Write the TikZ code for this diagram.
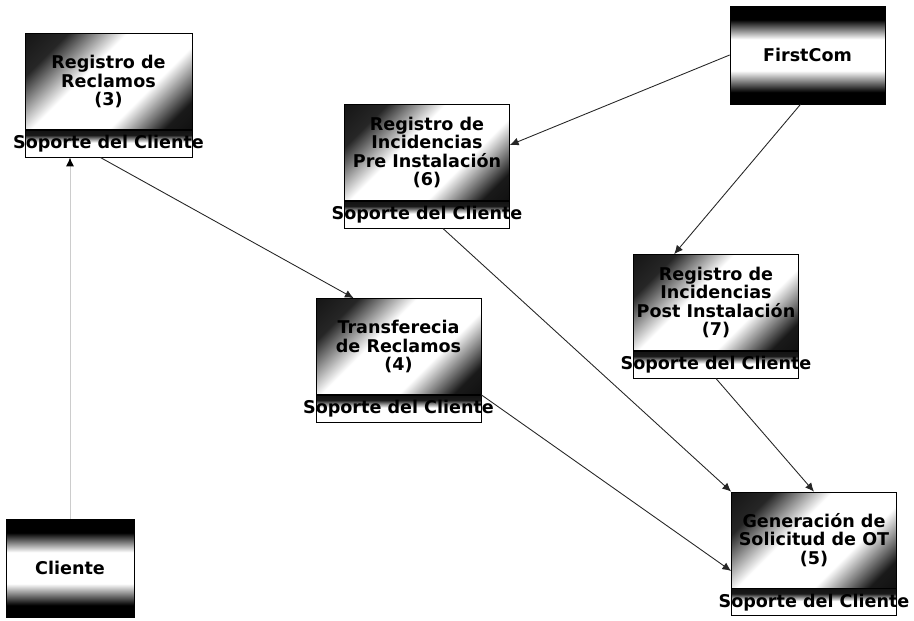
\documentclass[tikz,border=0pt]{standalone}
\usepackage{fontspec}
\setmainfont{DejaVu Sans}
\usepackage{tikz}
\usetikzlibrary{arrows.meta}

\pgfdeclareverticalshading{procshade}{100bp}{color(0bp)=(black); color(22bp)=(black!90); color(37bp)=(white); color(58bp)=(white); color(74bp)=(black!85); color(100bp)=(black)}
\pgfdeclareverticalshading{actorshade}{100bp}{color(0bp)=(black); color(31bp)=(black); color(42bp)=(white); color(58bp)=(white); color(68bp)=(black); color(100bp)=(black)}
\pgfdeclareverticalshading{bandshade}{100bp}{color(0bp)=(white); color(52bp)=(white); color(66bp)=(black!90); color(100bp)=(black)}

\begin{document}
\begin{tikzpicture}[x=0.02cm, y=-0.02cm,
    font=\fontsize{10}{10.5}\selectfont\bfseries,
    proc/.style={draw, shading=procshade, shading angle=45, inner sep=0pt,
      minimum width=3.3cm, minimum height=1.92cm, align=center},
    suplabel/.style={draw, shading=bandshade, inner sep=0pt, anchor=north,
      minimum width=3.3cm, minimum height=0.54cm},
    actor/.style={draw, shading=actorshade, inner sep=0pt,
      minimum height=1.96cm},
    link/.style={draw=black!85, line width=0.5pt, -{Latex[length=5pt,width=4.5pt]}}
  ]
  \useasboundingbox (0,0) rectangle (914,621);

  % actores
  \node[actor, minimum width=3.1cm] (first) at (807.5,55) {FirstCom};
  \node[actor, minimum width=2.56cm] (cli) at (70,568) {Cliente};

  % procesos
  \node[proc, minimum width=3.34cm] (reg3) at (108.5,81.5) {Registro de\\Reclamos\\(3)};
  \node[suplabel, minimum width=3.34cm] (reg3s) at (reg3.south) {\makebox[0pt]{Soporte del Cliente}};

  \node[proc] (pre6) at (427,152.5) {Registro de\\Incidencias\\Pre Instalación\\(6)};
  \node[suplabel] (pre6s) at (pre6.south) {\makebox[0pt]{Soporte del Cliente}};

  \node[proc] (post7) at (716,302.5) {Registro de\\Incidencias\\Post Instalación\\(7)};
  \node[suplabel] (post7s) at (post7.south) {\makebox[0pt]{Soporte del Cliente}};

  \node[proc] (trans4) at (398.5,346.5) {Transferecia\\de Reclamos\\(4)};
  \node[suplabel] (trans4s) at (trans4.south) {\makebox[0pt]{Soporte del Cliente}};

  \node[proc] (gen5) at (814,540) {Generación de\\Solicitud de OT\\(5)};
  \node[suplabel] (gen5s) at (gen5.south) {\makebox[0pt]{Soporte del Cliente}};

  % flujos
  \draw[link, draw=black!20, {Latex[length=5pt,width=4.5pt,black]}-] (reg3s.south -| cli.north) -- (cli.north);
  \draw[link] ([xshift=-0.16cm]reg3s.south) -- ([xshift=0.76cm]trans4.north west);
  \draw[link] (first.west) -- ([yshift=0.15cm]pre6.east);
  \draw[link] ([xshift=-0.14cm]first.south) -- ([xshift=0.82cm]post7.north west);
  \draw[link] ([xshift=0.32cm]pre6s.south) -- (gen5.north west);
  \draw[link] (trans4s.north east) -- ([yshift=-0.62cm]gen5.west);
  \draw[link] (post7s.south) -- (gen5.north);
\end{tikzpicture}
\end{document}
